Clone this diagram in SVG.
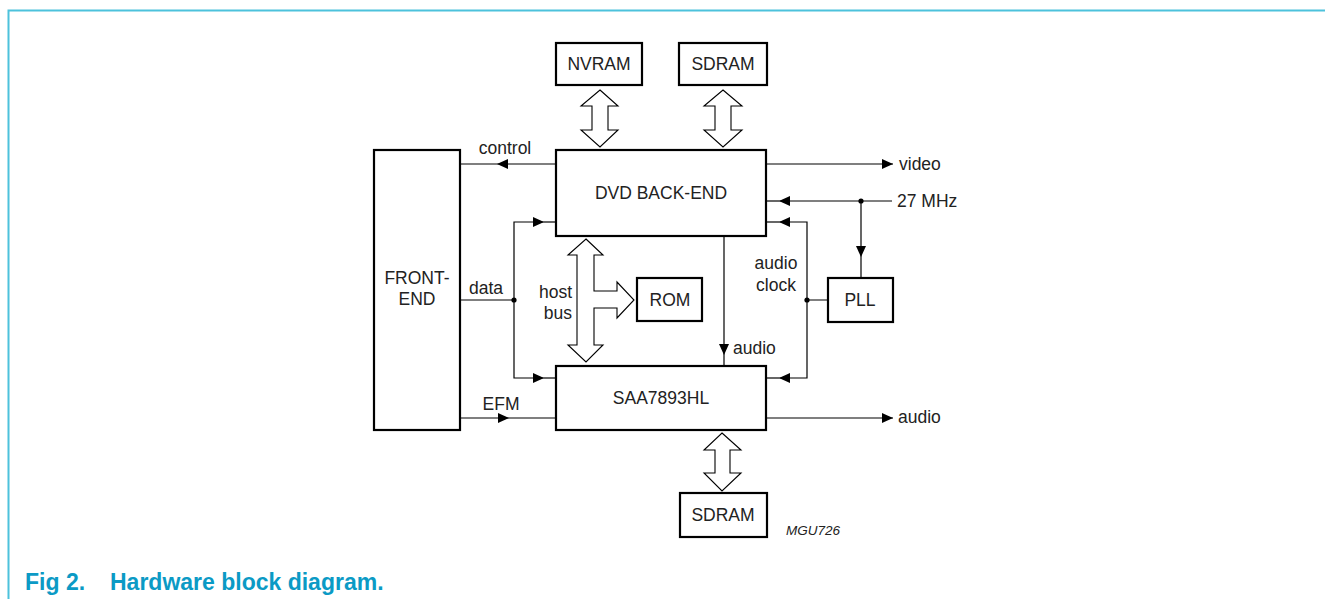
<svg xmlns="http://www.w3.org/2000/svg" width="1325" height="599" viewBox="0 0 1325 599">
<style>
.box{fill:#fff;stroke:#000;stroke-width:2.2}
.ln{fill:none;stroke:#000;stroke-width:1.2}
.bus{fill:#fff;stroke:#000;stroke-width:1.1;stroke-linejoin:miter}
text{font-family:"Liberation Sans",Arial,sans-serif;font-size:17.5px;fill:#222}
.lab{font-size:17.5px}
.c{text-anchor:middle}
</style>
<defs>
<marker id="ah" markerWidth="12" markerHeight="10" refX="11" refY="5" orient="auto" markerUnits="userSpaceOnUse">
<path d="M0,0 L11,5 L0,10 Z" fill="#000"/>
</marker>
</defs>
<path d="M8.5,599 V10.5 H1325" fill="none" stroke="#4dc2dc" stroke-width="2"/>
<g id="connectors">
<line class="ln" x1="556" y1="164" x2="497" y2="164" marker-end="url(#ah)"/>
<line class="ln" x1="497" y1="164" x2="460" y2="164"/>
<line class="ln" x1="460" y1="300" x2="514" y2="300"/>
<polyline class="ln" points="514,300 514,222 544,222" marker-end="url(#ah)"/>
<line class="ln" x1="544" y1="222" x2="556" y2="222"/>
<polyline class="ln" points="514,300 514,378 544,378" marker-end="url(#ah)"/>
<line class="ln" x1="544" y1="378" x2="556" y2="378"/>
<circle cx="514" cy="300" r="2.6"/>
<line class="ln" x1="460" y1="418" x2="509" y2="418" marker-end="url(#ah)"/>
<line class="ln" x1="509" y1="418" x2="556" y2="418"/>
<line class="ln" x1="766" y1="164" x2="893" y2="164" marker-end="url(#ah)"/>
<line class="ln" x1="892" y1="201" x2="779" y2="201" marker-end="url(#ah)"/>
<line class="ln" x1="779" y1="201" x2="766" y2="201"/>
<circle cx="861" cy="201" r="2.6"/>
<line class="ln" x1="861" y1="201" x2="861" y2="257" marker-end="url(#ah)"/>
<line class="ln" x1="861" y1="257" x2="861" y2="278"/>
<polyline class="ln" points="828,300 807,300 807,222 779,222" marker-end="url(#ah)"/>
<line class="ln" x1="779" y1="222" x2="766" y2="222"/>
<polyline class="ln" points="807,300 807,378 779,378" marker-end="url(#ah)"/>
<line class="ln" x1="779" y1="378" x2="766" y2="378"/>
<circle cx="807" cy="300" r="2.6"/>
<line class="ln" x1="724" y1="236" x2="724" y2="355" marker-end="url(#ah)"/>
<line class="ln" x1="724" y1="355" x2="724" y2="366"/>
<line class="ln" x1="766" y1="418" x2="893" y2="418" marker-end="url(#ah)"/>
<path class="bus" d="M600,90 L618,106 L608,106 L608,130 L618,130 L600,147 L581,130 L592,130 L592,106 L581,106 Z"/>
<path class="bus" d="M723,90 L742,106 L731,106 L731,130 L742,130 L723,147 L704,130 L715,130 L715,106 L704,106 Z"/>
<path class="bus" d="M722,433 L741,450 L730,450 L730,473 L741,473 L722,491 L704,473 L715,473 L715,450 L704,450 Z"/>
<path class="bus" d="M586,239 L603,255 L594,255 L594,291 L617,291 L617,282 L634,300 L617,318 L617,308 L594,308 L594,345 L603,345 L586,362 L568,345 L577,345 L577,255 L568,255 Z"/>
</g>
<g id="nvram"><rect class="box" x="556" y="43" width="86" height="42"/><text class="c" x="599" y="70">NVRAM</text></g>
<g id="sdram-top"><rect class="box" x="679" y="43" width="88" height="42"/><text class="c" x="723" y="70">SDRAM</text></g>
<g id="dvd-back-end"><rect class="box" x="556" y="150" width="210" height="86"/><text class="c" x="661" y="199">DVD BACK-END</text></g>
<g id="front-end"><rect class="box" x="374" y="150" width="86" height="280"/><text class="c" x="417" y="284">FRONT-</text><text class="c" x="417" y="305">END</text></g>
<g id="saa7893hl"><rect class="box" x="556" y="366" width="210" height="64"/><text class="c" x="661" y="404">SAA7893HL</text></g>
<g id="rom"><rect class="box" x="637" y="278" width="65" height="43"/><text class="c" x="670" y="306">ROM</text></g>
<g id="pll"><rect class="box" x="828" y="278" width="65" height="44"/><text class="c" x="860" y="306">PLL</text></g>
<g id="sdram-bottom"><rect class="box" x="680" y="493" width="87" height="44"/><text class="c" x="723" y="521">SDRAM</text></g>
<g id="labels">
<text class="lab c" x="505" y="154">control</text>
<text class="lab c" x="486" y="294">data</text>
<text class="lab c" x="501" y="410">EFM</text>
<text class="lab" x="899" y="170">video</text>
<text class="lab" x="897" y="207">27 MHz</text>
<text class="lab c" x="776" y="269">audio</text>
<text class="lab c" x="776" y="291">clock</text>
<text class="lab" x="733" y="354">audio</text>
<text class="lab" x="898" y="423">audio</text>
<text class="lab" x="572" y="298" text-anchor="end">host</text>
<text class="lab" x="572" y="319" text-anchor="end">bus</text>
<text x="786" y="535" style="font-size:13.5px;font-style:italic">MGU726</text>
</g>
<text x="25" y="590" style="font-size:23px;font-weight:bold;fill:#0b9ac5">Fig 2.</text>
<text x="110" y="590" style="font-size:23px;font-weight:bold;fill:#0b9ac5">Hardware block diagram.</text>
</svg>
